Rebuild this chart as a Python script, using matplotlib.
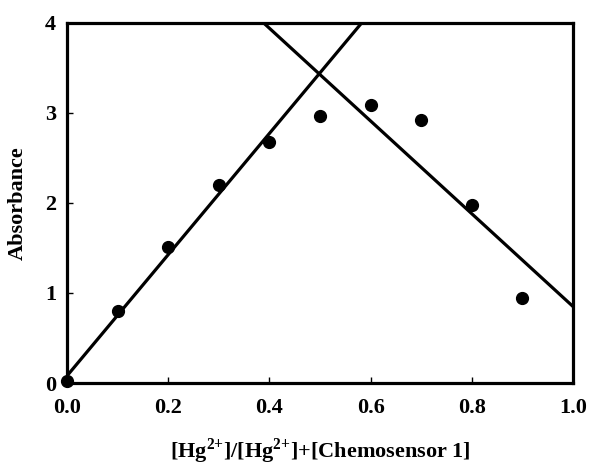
import numpy as np
import matplotlib
matplotlib.use("Agg")
import matplotlib.pyplot as plt

plt.rcParams['font.family'] = 'Liberation Serif'
plt.rcParams['font.weight'] = 'bold'
plt.rcParams['mathtext.fontset'] = 'custom'
plt.rcParams['mathtext.rm'] = 'Liberation Serif:bold'
plt.rcParams['mathtext.bf'] = 'Liberation Serif:bold'

# Job's plot data
mole_frac = [0.0, 0.1, 0.2, 0.3, 0.4, 0.5, 0.6, 0.7, 0.8, 0.9]
absorb = [0.02, 0.80, 1.51, 2.20, 2.68, 2.96, 3.09, 2.92, 1.98, 0.94]

# fitted lines: slope, intercept
rise_fit = [6.73, 0.08]
fall_fit = [-5.15, 6.0]

xticks = [0.0, 0.2, 0.4, 0.6, 0.8, 1.0]
yticks = [0, 1, 2, 3, 4]

fig = plt.figure(figsize=(5.9, 4.66), dpi=100)
ax = fig.add_axes([0.1136, 0.178, 0.8576, 0.773])

xs = np.array([0.0, 1.0])
ax.plot(xs, rise_fit[0] * xs + rise_fit[1], color='black', lw=2.3)
ax.plot(xs, fall_fit[0] * xs + fall_fit[1], color='black', lw=2.3)
ax.plot(mole_frac, absorb, 'o', color='black', ms=8.5, clip_on=False, zorder=5)

ax.set_xlim(0, 1)
ax.set_ylim(0, 4)
ax.set_xticks(xticks)
ax.set_xticklabels([f'{v:.1f}' for v in xticks])
ax.set_yticks(yticks)
ax.tick_params(direction='in', length=4, width=1, labelsize=16)
ax.tick_params(axis='x', pad=11)
ax.tick_params(axis='y', pad=8)
for s in ax.spines.values():
    s.set_linewidth(2.3)

ax.set_xlabel(r'[Hg$^{\text{2+}}$]/[Hg$^{\text{2+}}$]+[Chemosensor 1]', fontsize=16,
              fontweight='bold', labelpad=13)
ax.set_ylabel('Absorbance', fontsize=16, fontweight='bold', labelpad=12)

fig.savefig('out.png', dpi=100)
